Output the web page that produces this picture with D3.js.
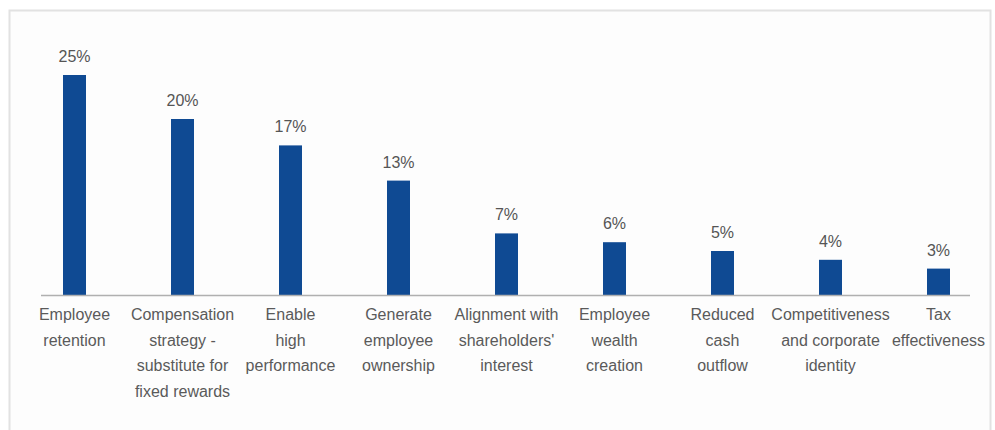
<!DOCTYPE html>
<html>
<head>
<meta charset="utf-8">
<script src="https://cdn.jsdelivr.net/npm/d3@7"></script>
<style>
  body { margin: 0; background: #fff; }
  text { font-family: "Liberation Sans", Arial, sans-serif; }
</style>
</head>
<body>
<svg id="chart" width="995" height="430"></svg>
<script>
// Data
const categories = [
  ["Employee", "retention"],
  ["Compensation", "strategy -", "substitute for", "fixed rewards"],
  ["Enable", "high", "performance"],
  ["Generate", "employee", "ownership"],
  ["Alignment with", "shareholders'", "interest"],
  ["Employee", "wealth", "creation"],
  ["Reduced", "cash", "outflow"],
  ["Competitiveness", "and corporate", "identity"],
  ["Tax", "effectiveness"]
];
const values = [25, 20, 17, 13, 7, 6, 5, 4, 3];
const valueLabels = ["25%", "20%", "17%", "13%", "7%", "6%", "5%", "4%", "3%"];

const svg = d3.select("#chart");

// frame
svg.append("rect")
  .attr("x", 9.5).attr("y", 10.5)
  .attr("width", 981).attr("height", 440)
  .attr("fill", "#fdfdfd")
  .attr("stroke", "#e2e2e2")
  .attr("stroke-width", 2);

const keys = categories.map((c, i) => i);

const x = d3.scaleBand()
  .domain(keys)
  .range([20.5, 992.5]);

const y = d3.scaleLinear()
  .domain([0, 25])
  .range([295, 75]);

const barW = 23;

// bars
svg.append("g")
  .selectAll("rect")
  .data(values)
  .join("rect")
  .attr("x", (d, i) => x(i) + x.bandwidth() / 2 - barW / 2)
  .attr("y", d => y(d))
  .attr("width", barW)
  .attr("height", d => y(0) - y(d))
  .attr("fill", "#0f4a93");

// baseline
svg.append("line")
  .attr("x1", 41).attr("x2", 970)
  .attr("y1", y(0) + 0.5).attr("y2", y(0) + 0.5)
  .attr("stroke", "#b0b0b0")
  .attr("stroke-width", 1.5);

// value labels
svg.append("g")
  .selectAll("text")
  .data(values)
  .join("text")
  .attr("x", (d, i) => x(i) + x.bandwidth() / 2)
  .attr("y", d => y(d) - 13)
  .attr("text-anchor", "middle")
  .attr("font-size", "16px")
  .attr("fill", "#555")
  .text((d, i) => valueLabels[i]);

// category labels
const catG = svg.append("g");
categories.forEach((lines, i) => {
  const t = catG.append("text")
    .attr("text-anchor", "middle")
    .attr("font-size", "16px")
    .attr("fill", "#5a5a5a");
  lines.forEach((line, j) => {
    t.append("tspan")
      .attr("x", x(i) + x.bandwidth() / 2)
      .attr("y", 320 + j * 25.5)
      .text(line);
  });
});
</script>
</body>
</html>
